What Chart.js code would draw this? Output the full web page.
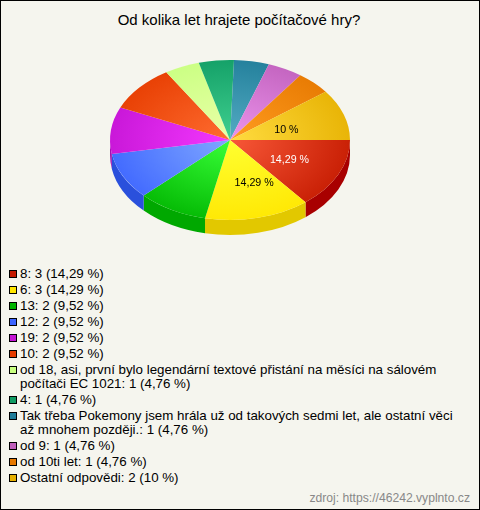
<!DOCTYPE html>
<html>
<head>
<meta charset="utf-8">
<title>Od kolika let hrajete počítačové hry?</title>
<script src="https://cdn.jsdelivr.net/npm/chart.js@4"></script>
<style>
    html, body { margin: 0; padding: 0; }
    body { width: 480px; height: 510px; overflow: hidden; background: #fff; }
    #box {
        position: relative; box-sizing: border-box; width: 480px; height: 510px;
        background: #f5f5ee; border: 1px solid #000;
        font-family: "Liberation Sans", Arial, sans-serif; color: #000;
    }
    #chartTitle { position: absolute; left: -1px; width: 478px; top: 10px; text-align: center; font-size: 15px; line-height: 18px; }
    #pie { position: absolute; left: 0; top: 0; }
    #legend { position: absolute; left: 7px; top: 266px; width: 445px; font-size: 13.33px; line-height: 14px; }
    #legend div { position: relative; padding-left: 12px; margin-bottom: 2px; }
    #legend i { position: absolute; left: 1px; top: 3px; width: 6px; height: 6px; border: 1px solid #000; }
    #source { position: absolute; right: 9px; top: 490px; font-size: 12.15px; line-height: 14px; color: #888; }
</style>
</head>
<body>
<div id="box">
    <div id="chartTitle"></div>
    <canvas id="pie" width="478" height="260"></canvas>
    <div id="legend"></div>
    <div id="source">zdroj: https://46242.vyplnto.cz</div>
</div>
<script>
const chartTitle = 'Od kolika let hrajete počítačové hry?';
const categories = ['8', '6', '13', '12', '19', '10',
    'od 18, asi, první bylo legendární textové přistání na měsíci na sálovém počítači EC 1021',
    '4',
    'Tak třeba Pokemony jsem hrála už od takových sedmi let, ale ostatní věci až mnohem později.',
    'od 9', 'od 10ti let', 'Ostatní odpovědi'];
const counts = [3, 3, 2, 2, 2, 2, 1, 1, 1, 1, 1, 2];
// slice sizes as measured on the picture, the last one is a bit over its 10 %
const shares = [14.29, 14.29, 9.52, 9.52, 9.52, 9.52, 4.76, 4.76, 4.76, 4.76, 4.76, 10.4];
const percentLabels = ['14,29', '14,29', '9,52', '9,52', '9,52', '9,52', '4,76', '4,76', '4,76', '4,76', '4,76', '10'];
const sliceLabels = ['14,29 %', '14,29 %', '', '', '', '', '', '', '', '', '', '10 %'];
const labelColors = ['#fff', '#000', '', '', '', '', '', '', '', '', '', '#000'];
const edgeColors = ['#c41a00', '#ffe600', '#00b400', '#3c64ff', '#c414d4', '#e63c00', '#c8ff80', '#109c64', '#1f7c98', '#c060bc', '#e67800', '#e6b000'];
const centerColors = ['#f85838', '#ffff30', '#38ff38', '#80a8ff', '#f438ff', '#ff6c30', '#eaffa8', '#40d090', '#54acc4', '#ec94ec', '#ff9c20', '#ffdc40'];
const sideColors = ['#a80000', '#e2c800', '#00a800', '#2a50dc', '#a010b0', '#c03000', '#a0d060', '#0c8050', '#186880', '#a050a0', '#c06000', '#c09000'];

document.getElementById('chartTitle').textContent = chartTitle;

const legend = document.getElementById('legend');
categories.forEach((name, i) => {
    const row = document.createElement('div');
    const mark = document.createElement('i');
    mark.style.background = edgeColors[i];
    row.appendChild(mark);
    row.appendChild(document.createTextNode(`${name}: ${counts[i]} (${percentLabels[i]} %)`));
    legend.appendChild(row);
});

const SQUASH = 2 / 3;
const DEPTH = 15;
// the reference doesn't put its labels quite at mid radius, nudge per slice
const LABEL_NUDGE = { 0: [1, 1], 1: [9, 1], 11: [-5, 4] };

// Chart.js only does flat pies, so squash the canvas and add the rim by hand
const tiltPlugin = {
    id: 'tilt',
    beforeDatasetsDraw(chart) {
        const { ctx } = chart;
        const arcs = chart.getDatasetMeta(0).data;
        const cx = arcs[0].x, cy = arcs[0].y, r = arcs[0].outerRadius;
        arcs.forEach((arc, i) => {
            const a = Math.max(arc.startAngle, 0);
            const b = Math.min(arc.endAngle, Math.PI);
            if (a >= b) return;
            ctx.beginPath();
            ctx.ellipse(cx, cy, r, r * SQUASH, 0, a, b);
            ctx.ellipse(cx, cy + DEPTH, r, r * SQUASH, 0, b, a, true);
            ctx.closePath();
            ctx.fillStyle = sideColors[i];
            ctx.fill();
        });
        ctx.save();
        ctx.translate(cx, cy);
        ctx.scale(1, SQUASH);
        ctx.translate(-cx, -cy);
    },
    afterDatasetsDraw(chart) {
        const { ctx } = chart;
        ctx.restore();
        const arcs = chart.getDatasetMeta(0).data;
        const cx = arcs[0].x, cy = arcs[0].y;
        ctx.font = '10.67px "Liberation Sans", Arial, sans-serif';
        ctx.textAlign = 'center';
        ctx.textBaseline = 'middle';
        arcs.forEach((arc, i) => {
            if (!sliceLabels[i]) return;
            const pos = arc.tooltipPosition();
            const x = cx + (pos.x - cx) * 1.08 + LABEL_NUDGE[i][0];
            const y = cy + (pos.y - cy) * SQUASH * 1.08 + LABEL_NUDGE[i][1];
            ctx.fillStyle = labelColors[i];
            ctx.fillText(sliceLabels[i], x, y);
        });
    }
};

new Chart(document.getElementById('pie'), {
    type: 'pie',
    data: {
        labels: categories,
        datasets: [{
            data: shares,
            borderWidth: 0,
            backgroundColor(c) {
                const area = c.chart.chartArea;
                if (!area) return edgeColors[c.dataIndex];
                const cx = (area.left + area.right) / 2, cy = (area.top + area.bottom) / 2;
                const g = c.chart.ctx.createRadialGradient(cx, cy, 0, cx, cy, area.height * 0.56);
                g.addColorStop(0, centerColors[c.dataIndex]);
                g.addColorStop(1, edgeColors[c.dataIndex]);
                return g;
            }
        }]
    },
    options: {
        responsive: false,
        animation: false,
        rotation: 90,
        layout: { padding: { left: 109, right: 129, top: 19, bottom: 1 } },
        plugins: { legend: { display: false }, tooltip: { enabled: false } }
    },
    plugins: [tiltPlugin]
});
</script>
</body>
</html>
